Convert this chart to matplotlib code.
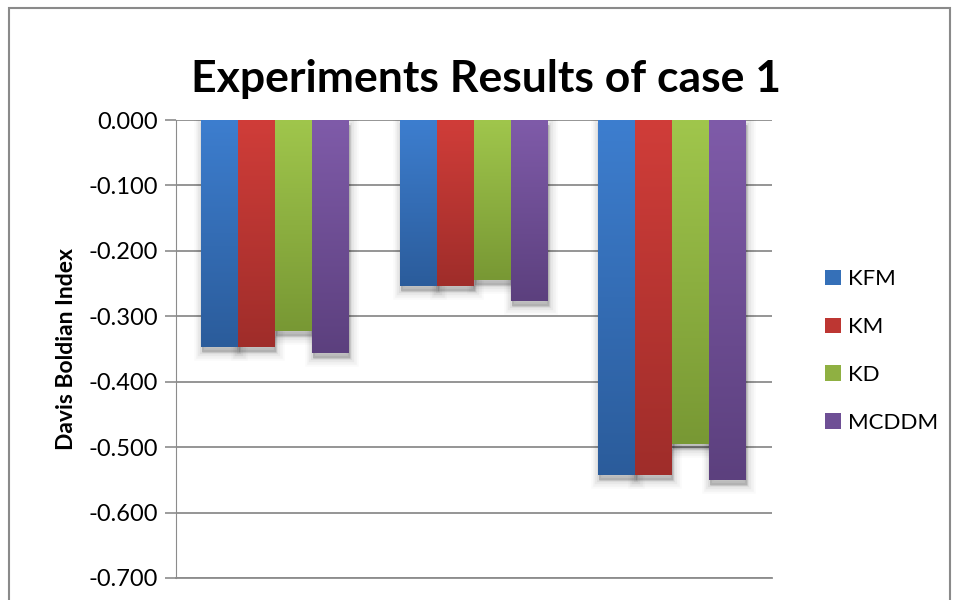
import matplotlib.pyplot as plt
import numpy as np
from matplotlib.patches import Rectangle, Patch
from matplotlib.colors import LinearSegmentedColormap
from matplotlib import transforms

# Davis Boldian index per method, one value per experiment group
groups = ['1', '2', '3']
series = ['KFM', 'KM', 'KD', 'MCDDM']
kfm = [-0.347, -0.253, -0.542]
km = [-0.347, -0.253, -0.542]
kd = [-0.323, -0.244, -0.495]
mcddm = [-0.356, -0.276, -0.551]
values = [kfm, km, kd, mcddm]
yticks = [0.0, -0.1, -0.2, -0.3, -0.4, -0.5, -0.6, -0.7]
ytick_labels = ['0.000', '-0.100', '-0.200', '-0.300', '-0.400', '-0.500', '-0.600', '-0.700']

# (top, bottom) colour of each bar gradient
top_col = ['#3d7ecf', '#d03d39', '#a0c64c', '#7f5ba9']
bot_col = ['#2b5c9b', '#9f2d2a', '#789834', '#5c407e']
mid_col = ['#3570b8', '#bd3632', '#8fb042', '#6e4f95']

plt.rcParams['font.family'] = ['Lato', 'DejaVu Sans']

fig = plt.figure(figsize=(9.55, 6), dpi=100)
ax = fig.add_axes([0.184, 0.0367, 0.624, 0.7633])

x = np.arange(len(groups))
w = 0.186
grad = np.linspace(0, 1, 256).reshape(-1, 1)

for i, vals in enumerate(values):
    cmap = LinearSegmentedColormap.from_list('g%d' % i, [top_col[i], bot_col[i]])
    for j, v in enumerate(vals):
        x0 = x[j] + (i - 1.5) * w - w / 2
        # soft drop shadow under the bar
        sh = transforms.offset_copy(ax.transData, fig, x=1, y=-5, units='dots')
        for lw, a in [(12, 0.02), (9, 0.03), (6, 0.04), (3, 0.05), (0.5, 0.06)]:
            ax.add_patch(Rectangle((x0, 0), w, v, facecolor='black', edgecolor='black',
                                   linewidth=lw, alpha=a, transform=sh, zorder=2))
        bar = Rectangle((x0, 0), w, v, facecolor=mid_col[i], edgecolor='none', zorder=3)
        ax.add_patch(bar)
        im = ax.imshow(grad, extent=[x0, x0 + w, v, 0], aspect='auto', cmap=cmap,
                       origin='upper', zorder=4, interpolation='bilinear')
        im.set_clip_path(bar)

ax.set_xlim(-0.5, 2.5)
ax.set_ylim(-0.7, 0.0)
ax.set_yticks(yticks)
ax.set_yticklabels(ytick_labels, fontsize=17)
ax.set_xticks([])
ax.yaxis.grid(True, color='#8c8c8c', linewidth=1.3)
ax.set_axisbelow(True)
for s in ['top', 'right']:
    ax.spines[s].set_visible(False)
ax.spines['left'].set_color('#8c8c8c')
ax.spines['bottom'].set_color('#8c8c8c')
ax.spines['bottom'].set_linewidth(1.3)
ax.tick_params(axis='y', length=8, color='#8c8c8c', width=1.2, pad=5)

ax.set_ylabel('Davis Boldian Index', fontsize=16.5, fontweight='bold', labelpad=8)
ax.set_title('Experiments Results of case 1', fontsize=32, fontweight='bold', pad=20, x=0.52)

handles = [Patch(facecolor=mid_col[i], label=series[i]) for i in range(len(series))]
fig.legend(handles=handles, loc='center left', bbox_to_anchor=(0.855, 0.415), frameon=False,
           fontsize=16, handlelength=0.7, handleheight=0.7, handletextpad=0.3,
           labelspacing=1.25, borderaxespad=0)

# chart frame
fig.patches.append(Rectangle((9 / 955, -0.1), 941 / 955, 1.1 - 8 / 600, transform=fig.transFigure,
                             fill=False, edgecolor='#8a8a8a', linewidth=1.5))

fig.savefig('out.png', dpi=100)
